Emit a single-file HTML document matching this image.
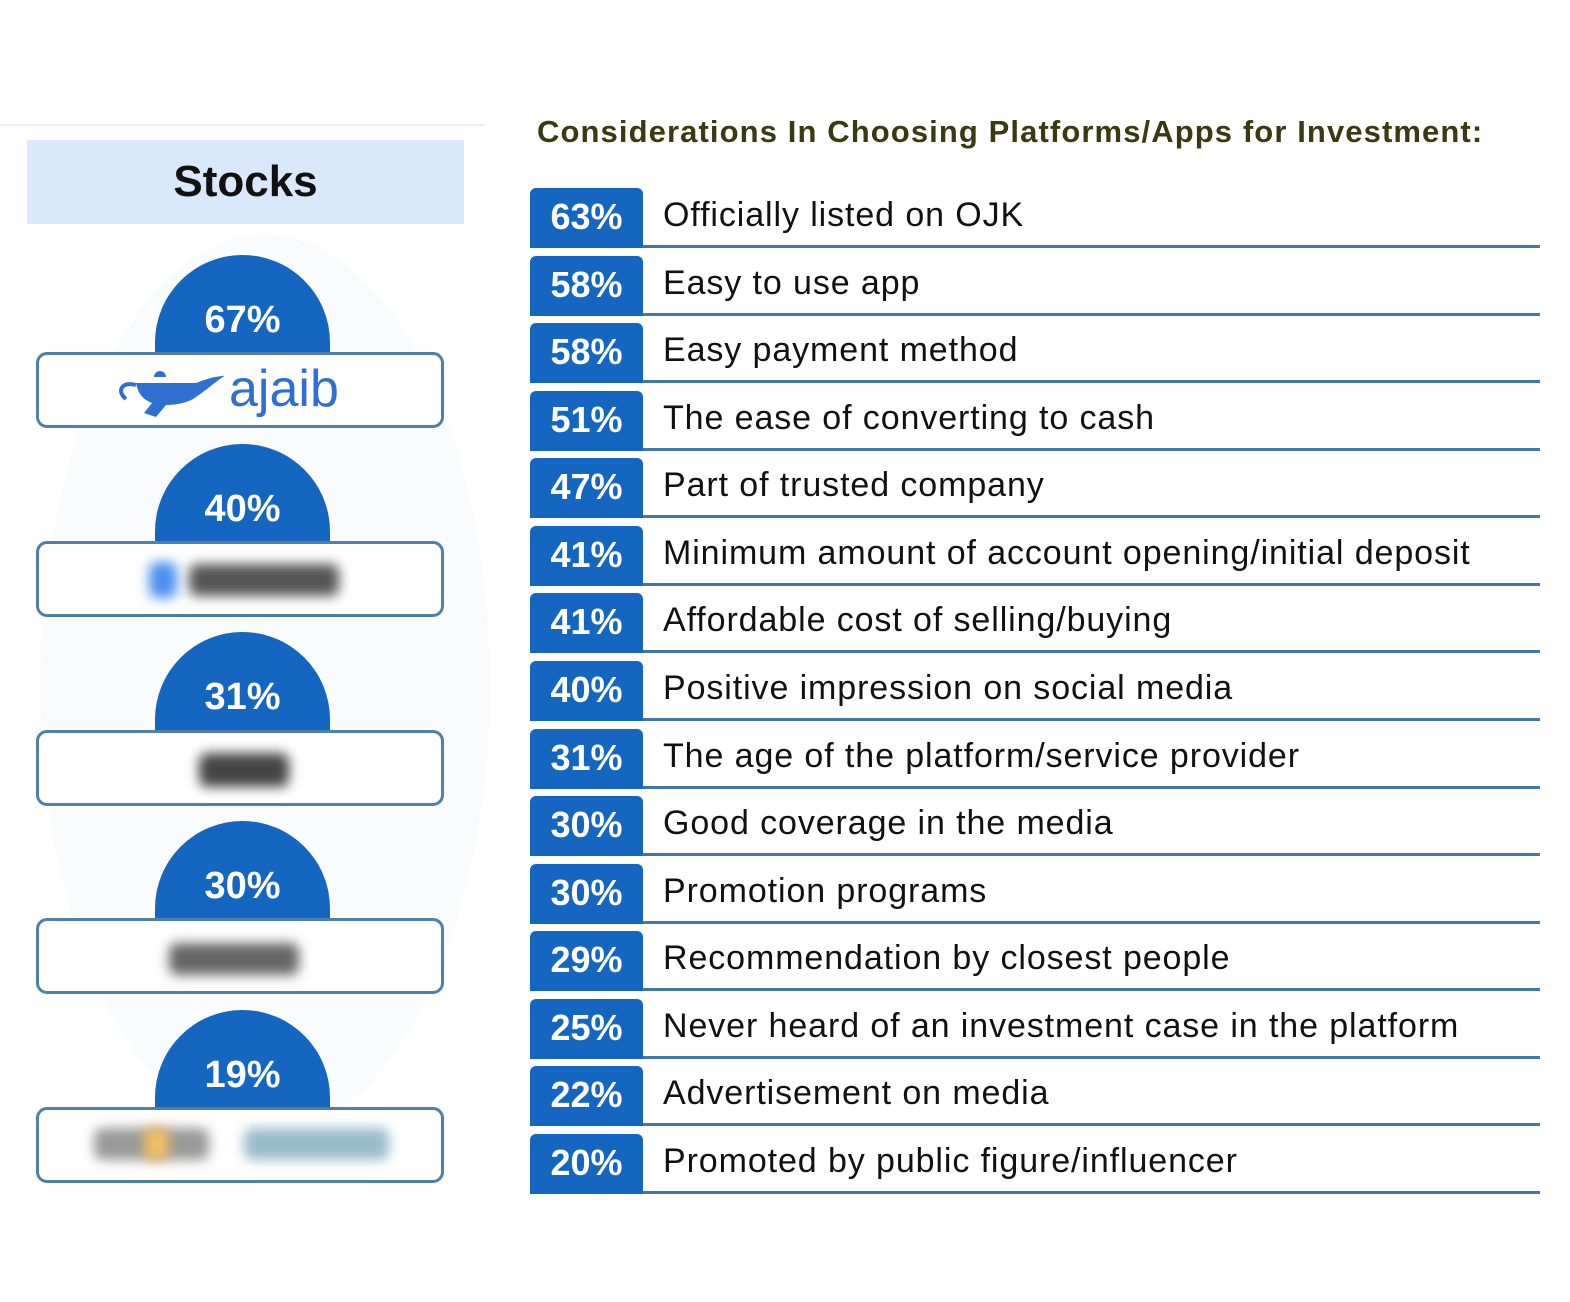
<!DOCTYPE html>
<html><head><style>
body{margin:0;width:1570px;height:1302px;background:#fff;position:relative;overflow:hidden;font-family:"Liberation Sans",sans-serif}
.a{position:absolute}
.hdr{left:27px;top:140px;width:437px;height:84px;background:#d9e8fb;text-align:center;font:bold 44px/84px "Liberation Sans",sans-serif;color:#111}
.circ{width:175px;height:105px;border-radius:88px 88px 0 0;background:#1466c0;left:155px;color:#fff;font:bold 38px "Liberation Sans",sans-serif;text-align:center;line-height:130px}
.box{left:36px;width:402px;height:70px;border:3px solid #4f81a8;border-radius:11px;background:#fff}
.title{left:537px;top:114px;font:bold 31px "Liberation Sans",sans-serif;color:#3a3a10;letter-spacing:1.1px}
.row{left:530px;width:1010px;height:58px}
.badge{position:absolute;left:0;top:0;width:113px;height:60px;background:#1466c0;border-radius:6px 6px 0 0;color:#fff;font:bold 36px/58px "Liberation Sans",sans-serif;text-align:center}
.txt{position:absolute;left:133px;top:8px;font:34px "Liberation Sans",sans-serif;color:#111;white-space:nowrap;letter-spacing:0.9px}
.ln{position:absolute;left:113px;right:0;top:57px;height:3px;background:#3f78a8}
.blur{position:absolute;filter:blur(6px);border-radius:8px}
</style></head><body>
<div class="a" style="left:0;top:124px;width:485px;height:2px;background:#eee"></div>
<div class="a hdr">Stocks</div>
<div class="a" style="left:40px;top:235px;width:450px;height:900px;border-radius:50%;background:#fafbfd"></div>

<div class="a circ" style="top:255px">67%</div>
<div class="a box" style="top:352px">
<svg class="a" style="left:75px;top:10px" width="110" height="55" viewBox="0 0 110 55"><path d="M40 12 a6 6 0 1 1 12 0 z" fill="#2f6fd0"/><path d="M22 18 h60 c20 -8 25 -6 30 -8 c-10 6 -18 14 -30 22 c-8 6 -20 8 -30 8 l-10 12 l-12 -4 l8 -10 c-10 -4 -14 -10 -16 -20 z" fill="#2f6fd0"/><path d="M22 20 c-14 -4 -20 6 -10 14" stroke="#2f6fd0" stroke-width="4" fill="none"/></svg>
<div class="a" style="left:190px;top:4px;color:#2f6fd0;font:52px 'Liberation Sans',sans-serif">ajaib</div></div>
<div class="a circ" style="top:444px">40%</div>
<div class="a box" style="top:541px"><div class="blur" style="left:110px;top:18px;width:28px;height:36px;background:#4a8ff0"></div><div class="blur" style="left:150px;top:20px;width:150px;height:32px;background:#555"></div></div>
<div class="a circ" style="top:632px">31%</div>
<div class="a box" style="top:730px"><div class="blur" style="left:160px;top:20px;width:90px;height:34px;background:#444"></div></div>
<div class="a circ" style="top:821px">30%</div>
<div class="a box" style="top:918px"><div class="blur" style="left:130px;top:22px;width:130px;height:32px;background:#666"></div></div>
<div class="a circ" style="top:1010px">19%</div>
<div class="a box" style="top:1107px"><div class="blur" style="left:55px;top:18px;width:115px;height:32px;background:#999"></div><div class="blur" style="left:105px;top:18px;width:25px;height:32px;background:#f2c060"></div><div class="blur" style="left:205px;top:18px;width:145px;height:32px;background:#9bc"></div></div>

<div class="a title">Considerations In Choosing Platforms/Apps for Investment:</div>

<div class="a row" style="top:188px"><div class="badge">63%</div><div class="txt">Officially listed on OJK</div><div class="ln"></div></div>
<div class="a row" style="top:256px"><div class="badge">58%</div><div class="txt">Easy to use app</div><div class="ln"></div></div>
<div class="a row" style="top:323px"><div class="badge">58%</div><div class="txt">Easy payment method</div><div class="ln"></div></div>
<div class="a row" style="top:391px"><div class="badge">51%</div><div class="txt">The ease of converting to cash</div><div class="ln"></div></div>
<div class="a row" style="top:458px"><div class="badge">47%</div><div class="txt">Part of trusted company</div><div class="ln"></div></div>
<div class="a row" style="top:526px"><div class="badge">41%</div><div class="txt">Minimum amount of account opening/initial deposit</div><div class="ln"></div></div>
<div class="a row" style="top:593px"><div class="badge">41%</div><div class="txt">Affordable cost of selling/buying</div><div class="ln"></div></div>
<div class="a row" style="top:661px"><div class="badge">40%</div><div class="txt">Positive impression on social media</div><div class="ln"></div></div>
<div class="a row" style="top:729px"><div class="badge">31%</div><div class="txt">The age of the platform/service provider</div><div class="ln"></div></div>
<div class="a row" style="top:796px"><div class="badge">30%</div><div class="txt">Good coverage in the media</div><div class="ln"></div></div>
<div class="a row" style="top:864px"><div class="badge">30%</div><div class="txt">Promotion programs</div><div class="ln"></div></div>
<div class="a row" style="top:931px"><div class="badge">29%</div><div class="txt">Recommendation by closest people</div><div class="ln"></div></div>
<div class="a row" style="top:999px"><div class="badge">25%</div><div class="txt">Never heard of an investment case in the platform</div><div class="ln"></div></div>
<div class="a row" style="top:1066px"><div class="badge">22%</div><div class="txt">Advertisement on media</div><div class="ln"></div></div>
<div class="a row" style="top:1134px"><div class="badge">20%</div><div class="txt">Promoted by public figure/influencer</div><div class="ln"></div></div>
</body></html>
